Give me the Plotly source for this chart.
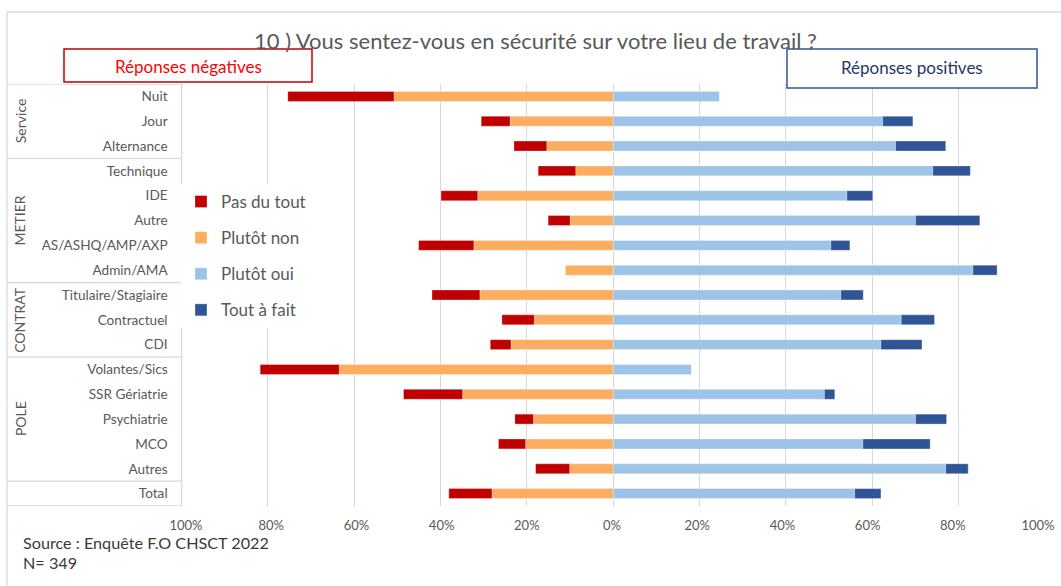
import plotly.graph_objects as go

W, H = 1061, 586

categories = ["Nuit", "Jour", "Alternance", "Technique", "IDE", "Autre",
              "AS/ASHQ/AMP/AXP", "Admin/AMA", "Titulaire/Stagiaire", "Contractuel",
              "CDI", "Volantes/Sics", "SSR Gériatrie", "Psychiatrie", "MCO", "Autres", "Total"]
group_names = ["Service", "METIER", "CONTRAT", "POLE", ""]
group_sizes = [3, 5, 3, 5, 1]

pas_du_tout = [24.6, 6.7, 7.6, 8.7, 8.5, 5.1, 12.8, 0.0, 11.1, 7.5, 4.8, 18.3, 13.7, 4.3, 6.3, 7.9, 10.0]
plutot_non = [50.8, 23.9, 15.4, 8.7, 31.4, 10.0, 32.3, 11.1, 30.9, 18.3, 23.7, 63.5, 34.9, 18.5, 20.3, 10.1, 28.1]
plutot_oui = [24.6, 62.4, 65.4, 74.0, 54.1, 70.0, 50.4, 83.3, 52.7, 66.7, 62.0, 18.1, 48.9, 70.0, 57.8, 77.0, 55.9]
tout_a_fait = [0.0, 7.0, 11.6, 8.7, 6.0, 14.9, 4.4, 5.6, 5.2, 7.7, 9.5, 0.0, 2.4, 7.2, 15.6, 5.2, 6.1]

tick_values = [-100, -80, -60, -40, -20, 0, 20, 40, 60, 80, 100]
tick_labels = ["100%", "80%", "60%", "40%", "20%", "0%", "20%", "40%", "60%", "80%", "100%"]

C_PAS = "#C00000"
C_NON = "#FDAD60"
C_OUI = "#9DC3E6"
C_TOUT = "#2F5597"
GRID = "#D9D9D9"
TXT = "#595959"
FONT = "Lato"


def px(x):
    return x / W


def py(y):
    return 1 - y / H


fig = go.Figure()
series = [
    ("Plutôt non", [-v for v in plutot_non], C_NON, 2),
    ("Pas du tout", [-v for v in pas_du_tout], C_PAS, 1),
    ("Plutôt oui", plutot_oui, C_OUI, 3),
    ("Tout à fait", tout_a_fait, C_TOUT, 4),
]
for name, vals, col, rank in series:
    fig.add_trace(go.Bar(
        y=categories, x=vals, orientation="h", name=name,
        marker=dict(color=col, line=dict(width=0.6, color="rgba(255,255,255,0.5)")),
        legendrank=rank, legendgroup=name,
    ))
# empty helper trace so that the label axis (x2) is rendered
fig.add_trace(go.Scatter(x=[], y=[], xaxis="x2", yaxis="y", showlegend=False, hoverinfo="skip"))

x0d, x1d = px(181.6), px(1045)
fig.update_layout(
    width=W, height=H,
    margin=dict(l=0, r=0, t=0, b=0, autoexpand=False),
    paper_bgcolor="white", plot_bgcolor="white",
    barmode="relative", bargap=0.6,
    font=dict(family=FONT, color=TXT),
    showlegend=True,
    legend=dict(x=px(181), y=py(184), xanchor="left", yanchor="top",
                bgcolor="white", font=dict(size=17, color=TXT, family=FONT),
                tracegroupgap=11, itemclick=False),
    xaxis=dict(domain=[x0d, x1d], range=[-100, 100], tickvals=tick_values,
               showticklabels=False, showgrid=True, gridcolor=GRID, gridwidth=1,
               zeroline=False, showline=False, ticks="", automargin=False),
    xaxis2=dict(domain=[x0d, x1d], overlaying="x", anchor="y", side="bottom",
                range=[-101.03, 101.64], tickvals=tick_values, ticktext=tick_labels,
                showgrid=False, zeroline=False, showline=False, ticks="", automargin=False,
                ticklabelstandoff=10, tickfont=dict(size=13, color=TXT, family=FONT)),
    yaxis=dict(domain=[py(506), py(84)], type="category", categoryorder="array",
               categoryarray=categories, range=[len(categories) - 0.5, -0.5],
               showgrid=False, zeroline=False, showline=False, ticks="", automargin=False,
               ticklabelstandoff=13, tickfont=dict(size=13.6, color=TXT, family=FONT)),
)

shapes = []
# outer chart frame
shapes.append(dict(type="line", xref="paper", yref="paper", x0=px(7), x1=px(7), y0=py(12), y1=0,
                   line=dict(color=GRID, width=1.3)))
shapes.append(dict(type="line", xref="paper", yref="paper", x0=px(7), x1=1, y0=py(12), y1=py(12),
                   line=dict(color=GRID, width=1.3)))
# category table lines
bounds = [-0.5]
acc = -0.5
for s in group_sizes:
    acc += s
    bounds.append(acc)
for b in bounds:
    shapes.append(dict(type="line", xref="paper", yref="y", x0=px(7), x1=x0d, y0=b, y1=b,
                       line=dict(color=GRID, width=1.3)))
shapes.append(dict(type="line", xref="paper", yref="y", x0=x0d, x1=x0d, y0=bounds[0], y1=bounds[-1],
                   line=dict(color=GRID, width=1.3)))
# white patch behind legend (hides gridline like the original)
shapes.append(dict(type="rect", xref="x", yref="paper", x0=-98.5, x1=-63, y0=py(342), y1=py(175),
                   fillcolor="white", line=dict(width=0), layer="between"))
# header boxes
shapes.append(dict(type="rect", xref="paper", yref="paper", x0=px(64), x1=px(312), y0=py(82), y1=py(49),
                   fillcolor="white", line=dict(color=C_PAS, width=1.5), layer="above"))
shapes.append(dict(type="rect", xref="paper", yref="paper", x0=px(787), x1=px(1037), y0=py(88), y1=py(49),
                   fillcolor="white", line=dict(color="#2F5597", width=1.5), layer="above"))
fig.update_layout(shapes=shapes)

ann = []
ann.append(dict(text="10 ) Vous sentez-vous en sécurité sur votre lieu de travail ?", xref="paper", yref="paper",
                x=px(535), y=py(40), xanchor="center", yanchor="middle", showarrow=False,
                font=dict(size=22, color=TXT, family=FONT)))
ann.append(dict(text="Réponses négatives", xref="paper", yref="paper", x=px(188), y=py(66),
                xanchor="center", yanchor="middle", showarrow=False,
                font=dict(size=17, color="#FF0000", family=FONT)))
ann.append(dict(text="Réponses positives", xref="paper", yref="paper", x=px(912), y=py(68),
                xanchor="center", yanchor="middle", showarrow=False,
                font=dict(size=17, color="#1F3864", family=FONT)))
start = 0
for name, s in zip(group_names, group_sizes):
    if name:
        ann.append(dict(text=name, xref="paper", yref="y", x=px(20), y=start + (s - 1) / 2,
                        xanchor="center", yanchor="middle",
                        textangle=-90, showarrow=False, font=dict(size=14, color=TXT, family=FONT)))
    start += s
ann.append(dict(text="Source : Enquête F.O CHSCT 2022", xref="paper", yref="paper", x=px(21), y=py(542),
                xanchor="left", yanchor="middle", showarrow=False,
                font=dict(size=16.2, color="#3A3A3A", family=FONT)))
ann.append(dict(text="N= 349", xref="paper", yref="paper", x=px(21), y=py(562),
                xanchor="left", yanchor="middle", showarrow=False,
                font=dict(size=16.2, color="#3A3A3A", family=FONT)))
fig.update_layout(annotations=ann)

fig.write_html("out.html", config={"displayModeBar": False},
               post_script="document.body.style.margin='0px';")
